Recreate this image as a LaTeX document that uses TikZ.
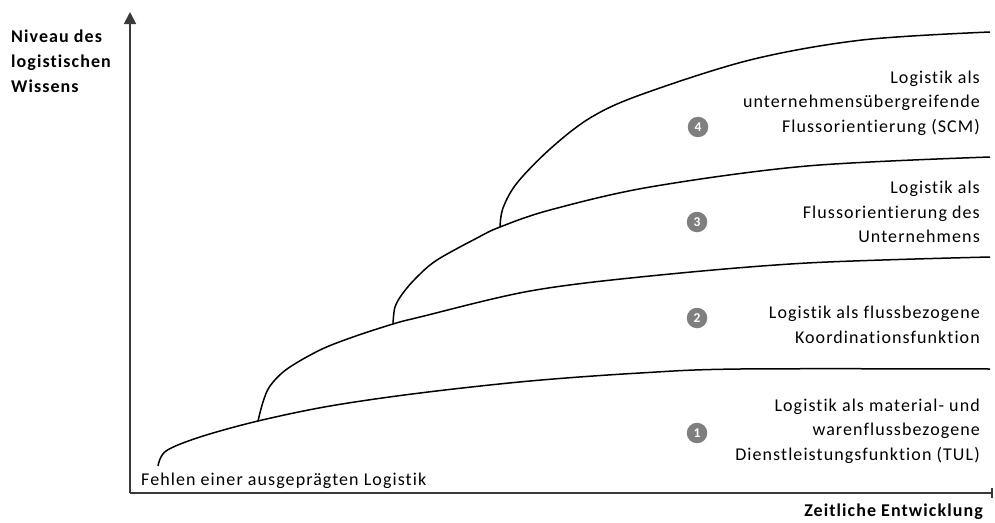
\documentclass[tikz,border=0pt]{standalone}
\usepackage{fontspec}
\setmainfont{Carlito}[LetterSpace=6.0, Ligatures={TeX,NoCommon}]
\usetikzlibrary{arrows.meta}
\definecolor{axisgray}{HTML}{3A3A3A}
\definecolor{badgegray}{HTML}{7F7F7F}
\tikzset{
  axisline/.style={draw=axisgray, line width=1.8pt},
  phase/.style={draw=black, line width=1.5pt, line join=round},
  lbl/.style={font=\fontsize{18}{24.5}\selectfont, inner sep=0pt, align=right, anchor=east},
  axlbl/.style={font=\fontsize{18}{25}\selectfont\bfseries, inner sep=0pt},
  badge/.style={circle, fill=badgegray, minimum size=20.5pt, inner sep=0pt, text=white, font=\fontsize{13.5}{14}\selectfont\bfseries}
}
\begin{document}
\begin{tikzpicture}[x=1pt,y=-1pt]
\useasboundingbox (0,0) rectangle (995,522);
% axes
\coordinate (O) at (130,493);
\coordinate (Ytop) at (130,12);
\coordinate (Xend) at (993,493);
\draw[axisline, -{Triangle[width=12pt,length=12pt]}] (O) -- (Ytop);
\draw[axisline, -{Bar[width=10pt]}] (O) -- (Xend);
% axis labels
\node[axlbl, anchor=west, align=left] (ylab) at (11,61) {Niveau des\\logistischen\\Wissens};
\node[axlbl, anchor=east] (xlab) at (983,512) {Zeitliche Entwicklung};
% curves
\draw[phase] plot[smooth, tension=0.55] coordinates {(158,466) (166,451) (200,437) (258,421) (330,406) (420,393) (530,381) (640,373) (740,369) (990,369)};
\draw[phase] plot[smooth, tension=0.55] coordinates {(258,421) (263,402) (270,386) (287,369) (320,350) (353,337) (393,324) (420,317) (530,291) (650,276) (807,263) (990,257)};
\draw[phase] plot[smooth, tension=0.55] coordinates {(393,324) (395,307) (403,293) (417,277) (437,260) (477,238) (500,227) (550,210) (650,187) (807,166) (990,157)};
\draw[phase] plot[smooth, tension=0.55] coordinates {(500,227) (503,208) (517,183) (550,149) (590,118) (640,95) (750,60) (862,40) (990,32)};
% labels
\node[lbl] (t4) at (980,103) {Logistik als\\unternehmensübergreifende\\Flussorientierung (SCM)};
\node[lbl] (t3) at (980,212) {Logistik als\\Flussorientierung des\\Unternehmens};
\node[lbl] (t2) at (980,325) {Logistik als flussbezogene\\Koordinationsfunktion};
\node[lbl] (t1) at (980,431) {Logistik als material- und\\warenflussbezogene\\Dienstleistungsfunktion (TUL)};
\node[lbl, anchor=west, align=left] (t0) at (141,481) {Fehlen einer ausgeprägten Logistik};
% badges
\node[badge] (b4) at (698,127) {4};
\node[badge] (b3) at (697,222) {3};
\node[badge] (b2) at (697,318) {2};
\node[badge] (b1) at (697,433) {1};
\end{tikzpicture}
\end{document}
